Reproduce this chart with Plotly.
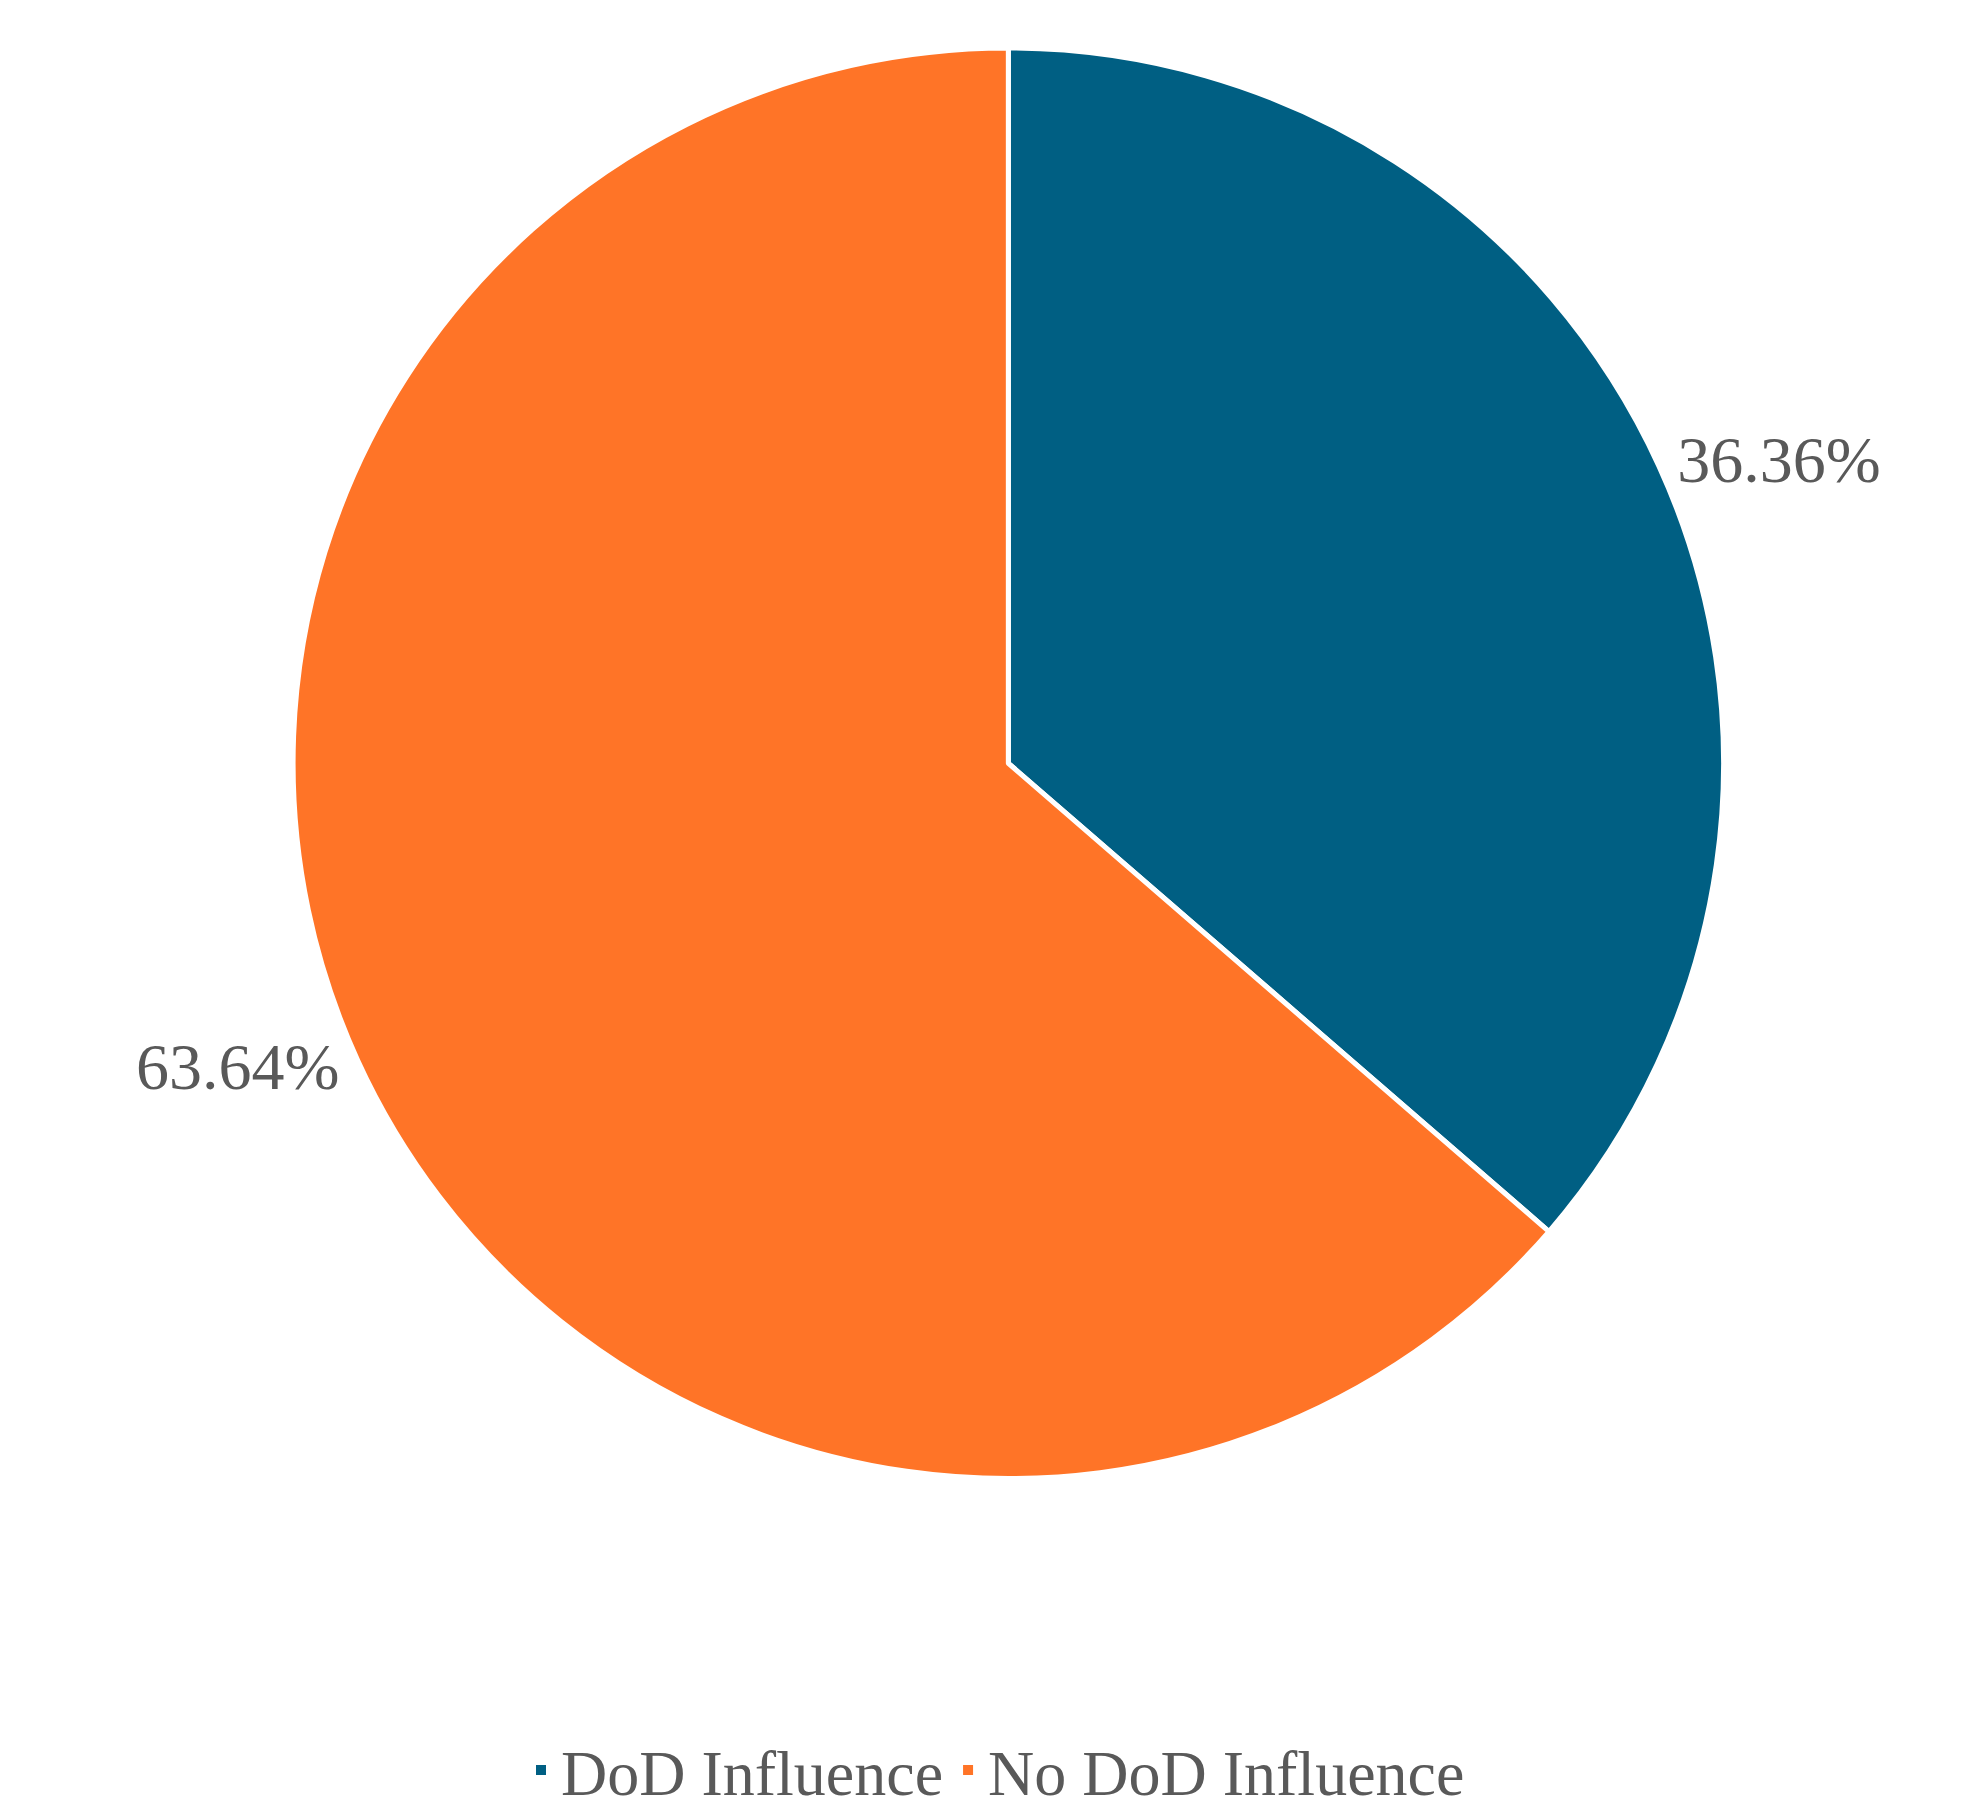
import plotly.graph_objects as go

labels = ["DoD Influence", "No DoD Influence"]
values = [36.36, 63.64]
colors = ["#005F83", "#FF7427"]

fig = go.Figure(go.Pie(
    labels=labels, values=values, sort=False, direction="clockwise", rotation=0,
    marker=dict(colors=colors, line=dict(color="white", width=5)),
    texttemplate="%{value:.2f}%", textposition="outside",
    textfont=dict(family="Liberation Serif", size=66, color="#595959"),
    domain=dict(x=[0.144, 0.869], y=[0.192, 0.978]),
))
fig.update_layout(
    width=1975, height=1820, margin=dict(l=0, r=0, t=0, b=0),
    paper_bgcolor="white", plot_bgcolor="white",
    legend=dict(orientation="h", x=0.5, xanchor="center", y=0.005, yanchor="bottom",
                font=dict(family="Liberation Serif", size=64, color="#595959"),
                itemsizing="constant"),
)
fig.write_html("out.html")
